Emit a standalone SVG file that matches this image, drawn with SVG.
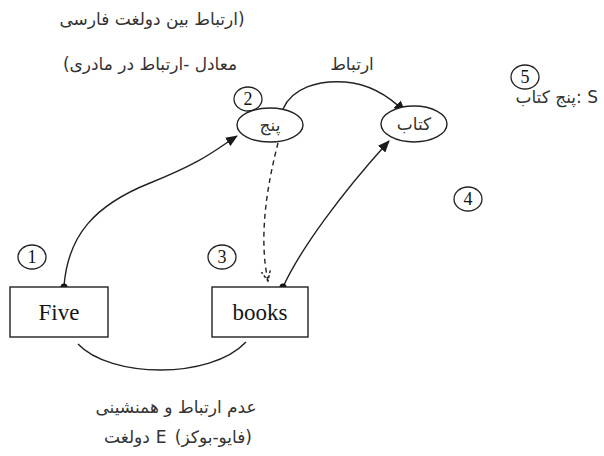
<svg xmlns="http://www.w3.org/2000/svg" width="604" height="456" viewBox="0 0 604 456">
<defs>
<marker id="ah" viewBox="0 0 12 10" refX="11" refY="5" markerWidth="12" markerHeight="10" markerUnits="userSpaceOnUse" orient="auto"><path d="M0,0 L12,5 L0,10 z" fill="#1a1a1a"/></marker>
<marker id="ahd" viewBox="0 0 12 10" refX="11" refY="5" markerWidth="12" markerHeight="10" markerUnits="userSpaceOnUse" orient="auto"><path d="M1,0.5 L11,5 L1,9.5" fill="none" stroke="#1a1a1a" stroke-width="1.4" stroke-dasharray="3,2"/></marker>
</defs>
<style>
.fa{font-family:"DejaVu Sans",sans-serif;font-size:17px;fill:#333}
.rtl{direction:rtl;unicode-bidi:embed}
.num{font-family:"Liberation Serif",serif;font-size:18px;fill:#141414;text-anchor:middle}
.lbl{font-family:"Liberation Serif",serif;font-size:23px;fill:#141414;text-anchor:middle}
.shape{fill:#fff;stroke:#222;stroke-width:1.4}
.ring{fill:none;stroke:#222;stroke-width:1.3}
.edge{fill:none;stroke:#222;stroke-width:1.4}
.dot{fill:#111}
</style>
<g id="texts">
<text class="fa rtl" x="152" y="25" text-anchor="middle">(ارتباط بین دولغت فارسی</text>
<text class="fa rtl" x="150" y="70" text-anchor="middle">معادل -ارتباط در مادری)</text>
<text class="fa rtl" x="352" y="70" text-anchor="middle">ارتباط</text>
<text class="fa rtl" x="598" y="103" text-anchor="start">S :پنج کتاب</text>
<text class="fa rtl" x="176" y="413" text-anchor="middle">عدم ارتباط و همنشینی</text>
<text class="fa rtl" x="104" y="443" text-anchor="end">دولغت</text>
<text class="fa" x="161" y="443" text-anchor="middle">E</text>
<text class="fa rtl" x="252" y="443" text-anchor="start">(فایو-بوکز)</text>
</g>
<g id="connectors">
<path class="edge" d="M64,286 C68,235 95,205 150,183 S215,150 237,136" marker-end="url(#ah)"/>
<path class="edge" d="M278,143 C268,182 258,235 268,281" stroke-dasharray="5,4" marker-end="url(#ahd)"/>
<path class="edge" d="M283,287 C300,250 340,195 389,141" marker-end="url(#ah)"/>
<path class="edge" d="M283,109 C292,88 318,80 345,82 C372,84 392,99 405,112" marker-end="url(#ah)"/>
<path class="edge" d="M78,344 C110,378 210,380 246,342"/>
<circle class="dot" cx="64" cy="287" r="3.5"/>
<circle class="dot" cx="283" cy="287" r="3.5"/>
</g>
<g id="n1"><ellipse class="ring" cx="32" cy="257" rx="14" ry="12"/><text class="num" x="32" y="263">1</text></g>
<g id="n2"><ellipse class="ring" cx="248" cy="99" rx="14" ry="12"/><text class="num" x="248" y="105">2</text></g>
<g id="n3"><ellipse class="ring" cx="222" cy="257" rx="14" ry="12"/><text class="num" x="222" y="263">3</text></g>
<g id="n4"><ellipse class="ring" cx="468" cy="199" rx="14" ry="12"/><text class="num" x="468" y="205">4</text></g>
<g id="n5"><ellipse class="ring" cx="525" cy="77" rx="14" ry="12"/><text class="num" x="525" y="83">5</text></g>
<g id="panj"><ellipse class="shape" cx="270" cy="125" rx="33" ry="17"/><text class="fa rtl" x="270" y="131" text-anchor="middle">پنج</text></g>
<g id="ketab"><ellipse class="shape" cx="414" cy="124" rx="33" ry="18"/><text class="fa rtl" x="414" y="130" text-anchor="middle">کتاب</text></g>
<g id="five"><rect class="shape" x="10" y="287" width="98" height="50"/><text class="lbl" x="59" y="320">Five</text></g>
<g id="books"><rect class="shape" x="212" y="287" width="96" height="50"/><text class="lbl" x="260" y="320">books</text></g>
</svg>
